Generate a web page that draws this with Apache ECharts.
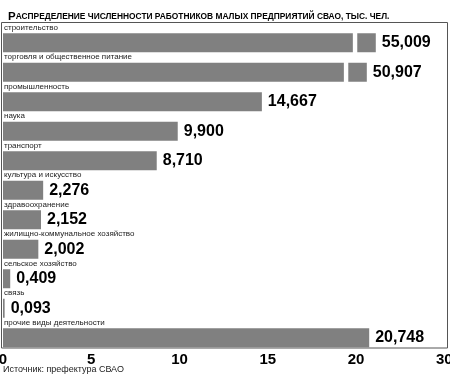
<!DOCTYPE html>
<html><head><meta charset="utf-8">
<script src="https://cdn.jsdelivr.net/npm/echarts@6/dist/echarts.min.js"></script>
<style>html,body{margin:0;padding:0;background:#fff}#c{width:450px;height:379px}</style>
</head><body><div id="c"></div>
<script>
const categories = ['строительство','торговля и общественное питание','промышленность','наука','транспорт','культура и искусство','здравоохранение','жилищно-коммунальное хозяйство','сельское хозяйство','связь','прочие виды деятельности'];
const values = [55.009, 50.907, 14.667, 9.900, 8.710, 2.276, 2.152, 2.002, 0.409, 0.093, 20.748];
const tickLabels = ['0','5','10','15','20','30'];
const titleText = 'Распределение численности работников малых предприятий СВАО, тыс. чел.';
const sourceText = 'Источник: префектура СВАО';

// broken-bar display transform for values beyond the axis
const AXIS_MAX = 25;
const BREAK_BASE = 13, BREAK_SCALE = 0.124, GAP = 0.25, TAIL = 1.05;
const broken = values.map(v => v > AXIS_MAX);
const mainData = values.map(v => v > AXIS_MAX ? BREAK_BASE + BREAK_SCALE * v : v);
const gapData = broken.map(b => b ? GAP : 0);
const tailData = broken.map(b => b ? TAIL : 0);
const fmt = v => v.toFixed(3).replace('.', ',');

const BAR = '#808080';
const valueLabel = {
  show: true, position: 'right', distance: 6,
  fontFamily: 'Liberation Sans, Arial, sans-serif', fontWeight: 'bold', fontSize: 16, color: '#000'
};

const chart = echarts.init(document.getElementById('c'), null, {renderer: 'canvas'});
chart.setOption({
  animation: false,
  backgroundColor: '#fff',
  title: {
    text: '{a|' + titleText[0] + '}{b|' + titleText.slice(1).toUpperCase() + '}',
    left: 3, top: 6,
    textStyle: {
      rich: {
        a: {fontFamily: 'Liberation Sans, Arial, sans-serif', fontWeight: 'bold', fontSize: 11.5, color: '#000'},
        b: {fontFamily: 'Liberation Sans, Arial, sans-serif', fontWeight: 'bold', fontSize: 8.4, color: '#000'}
      }
    }
  },
  grid: {left: 3, right: 5.75, top: 28, height: 324.5, containLabel: false, outerBoundsMode: 'none'},
  xAxis: {
    type: 'value', min: 0, max: AXIS_MAX, interval: 5,
    axisLine: {show: false}, axisTick: {show: false}, splitLine: {show: false},
    axisLabel: {
      formatter: v => tickLabels[Math.round(v / 5)],
      fontFamily: 'Liberation Sans, Arial, sans-serif', fontWeight: 'bold', fontSize: 15, color: '#000', margin: 0
    }
  },
  yAxis: {
    type: 'category', data: categories, inverse: true,
    axisLine: {show: false}, axisTick: {show: false}, splitLine: {show: false},
    axisLabel: {
      inside: true, margin: 1, verticalAlign: 'bottom', padding: [0, 0, 11, 0],
      fontFamily: 'Liberation Sans, Arial, sans-serif', fontSize: 8, color: '#222'
    }
  },
  series: [
    {type: 'bar', stack: 's', data: mainData, barWidth: 19, itemStyle: {color: BAR},
     label: Object.assign({}, valueLabel, {formatter: p => broken[p.dataIndex] ? '' : fmt(values[p.dataIndex])})},
    {type: 'bar', stack: 's', data: gapData, barWidth: 19, itemStyle: {color: 'rgba(0,0,0,0)'}},
    {type: 'bar', stack: 's', data: tailData, barWidth: 19, itemStyle: {color: BAR},
     label: Object.assign({}, valueLabel, {formatter: p => broken[p.dataIndex] ? fmt(values[p.dataIndex]) : ''})}
  ],
  graphic: [
    {type: 'rect', shape: {x: 1.5, y: 22.5, width: 446, height: 325.5},
     style: {fill: null, stroke: '#555', lineWidth: 1}, z: 10, silent: true},
    {type: 'text', left: 3, top: 365,
     style: {text: sourceText, fontFamily: 'Liberation Sans, Arial, sans-serif', fontSize: 9, fill: '#222'}}
  ]
});
</script></body></html>
